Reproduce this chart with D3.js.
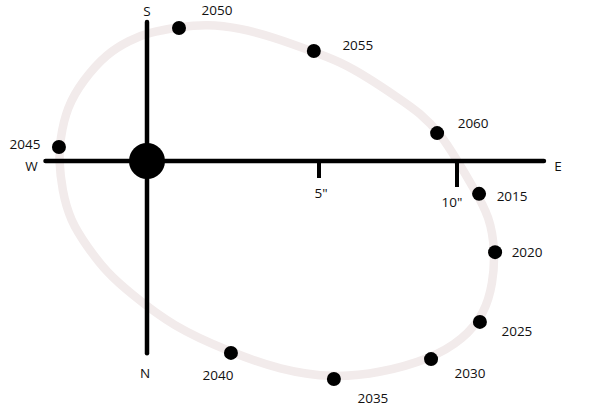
<!DOCTYPE html>
<html lang="en">
    <head>
        <title>Orbit</title>
        <style>
            body { margin: 0; background: #fff; }
            svg text { font-family: "Open Sans", sans-serif; font-size: 13.5px; fill: #111; }
        </style>
    </head>
    <body>
        <script src="https://d3js.org/d3.v7.min.js"></script>
        <svg id="chart"></svg>
        <script>
            const width = 600;
            const height = 413;

            // positions of the companion, arcsec east (x) and south (y) of the primary
            const years = [2015, 2020, 2025, 2030, 2035, 2040, 2045, 2050, 2055, 2060];
            const eastOffset = [10.80, 11.38, 10.83, 9.06, 5.54, 2.44, -2.56, 0.93, 4.85, 9.28];
            const southOffset = [-1.06, -2.94, -5.19, -6.39, -7.03, -6.19, 0.45, 4.29, 3.55, 0.90];

            // orbit track
            const orbitEast = [0.00, 0.93, 1.74, 2.70, 3.66, 4.85, 5.76, 6.74, 7.93, 8.66, 9.38, 10.00,
                10.58, 11.20, 11.38, 11.30, 11.01, 10.22, 9.02, 7.21, 5.51, 3.87, 2.41, 0.76, -0.49,
                -1.16, -1.74, -2.24, -2.47, -2.56, -2.53, -2.33, -1.86, -1.16, -0.49];
            const orbitSouth = [4.13, 4.32, 4.42, 4.29, 4.00, 3.52, 3.20, 2.71, 2.00, 1.55, 0.90, 0.03,
                -0.84, -1.81, -2.94, -3.94, -4.90, -5.77, -6.39, -6.84, -7.00, -6.74, -6.16, -5.35, -4.26,
                -3.61, -2.77, -1.90, -0.94, 0.03, 0.68, 1.74, 2.61, 3.48, 3.90];

            const tickValues = [5, 10];
            const tickLabels = ['5"', '10"'];
            const eastRange = [-2.95, 13.15];
            const southRange = [-6.2, 4.48];

            // hand drawn scale: 5" and 10" marks are not evenly spaced
            const x = d3.scaleLinear().domain([0, 5, 10]).range([147, 319, 457]);
            const y = d3.scaleLinear().domain([0, 5]).range([161, 6]);

            const svg = d3.select("#chart")
                .attr("width", width)
                .attr("height", height);

            const orbit = d3.range(orbitEast.length).map(i => [x(orbitEast[i]), y(orbitSouth[i])]);
            svg.append("path")
                .attr("d", d3.line().curve(d3.curveBasisClosed)(orbit))
                .attr("fill", "none")
                .attr("stroke", "#f2ebeb")
                .attr("stroke-width", 8.5);

            // axes
            svg.append("line")
                .attr("x1", x(eastRange[0])).attr("x2", x(eastRange[1]))
                .attr("y1", y(0)).attr("y2", y(0))
                .attr("stroke", "#000").attr("stroke-width", 4.5).attr("stroke-linecap", "round");
            svg.append("line")
                .attr("x1", x(0)).attr("x2", x(0))
                .attr("y1", y(southRange[0])).attr("y2", y(southRange[1]))
                .attr("stroke", "#000").attr("stroke-width", 4.5).attr("stroke-linecap", "round");

            const tickLength = [17, 26];
            const ticks = svg.selectAll(".tick")
                .data(tickValues)
                .enter()
                .append("g")
                .attr("class", "tick")
                .attr("transform", d => `translate(${x(d)}, ${y(0)})`);
            ticks.append("line")
                .attr("y2", (d, i) => tickLength[i])
                .attr("stroke", "#000").attr("stroke-width", 4);
            ticks.append("text")
                .attr("x", (d, i) => i === 0 ? 2 : -5)
                .attr("y", (d, i) => tickLength[i] + 15)
                .attr("dy", "0.35em")
                .attr("text-anchor", "middle")
                .text((d, i) => tickLabels[i]);

            // compass letters
            const dirs = [
                { t: "S", px: x(0), py: y(southRange[1]) - 11 },
                { t: "N", px: x(0) - 2, py: y(southRange[0]) + 20 },
                { t: "W", px: x(eastRange[0]) - 14, py: y(0) + 5 },
                { t: "E", px: x(eastRange[1]) + 14, py: y(0) + 5 }
            ];
            svg.selectAll(".dir")
                .data(dirs)
                .enter()
                .append("text")
                .attr("class", "dir")
                .attr("x", d => d.px)
                .attr("y", d => d.py)
                .attr("dy", "0.35em")
                .attr("text-anchor", "middle")
                .text(d => d.t);

            // primary star
            svg.append("circle")
                .attr("cx", x(0)).attr("cy", y(0))
                .attr("r", 18).attr("fill", "#000");

            // companion positions
            const labelOffset = {
                2015: [33, 2], 2020: [32, 0], 2025: [37, 9], 2030: [39, 14], 2035: [39, 19],
                2040: [-13, 22], 2045: [-34, -3], 2050: [38, -18], 2055: [44, -6], 2060: [36, -10]
            };
            const points = years.map((yr, i) => ({ year: yr, e: eastOffset[i], s: southOffset[i] }));

            const pts = svg.selectAll(".pos")
                .data(points)
                .enter()
                .append("g")
                .attr("class", "pos")
                .attr("transform", d => `translate(${x(d.e)}, ${y(d.s)})`);
            pts.append("circle")
                .attr("r", 7)
                .attr("fill", "#000");
            pts.append("text")
                .attr("x", d => labelOffset[d.year][0])
                .attr("y", d => labelOffset[d.year][1])
                .attr("dy", "0.35em")
                .attr("text-anchor", "middle")
                .text(d => d.year);
        </script>
    </body>
</html>
